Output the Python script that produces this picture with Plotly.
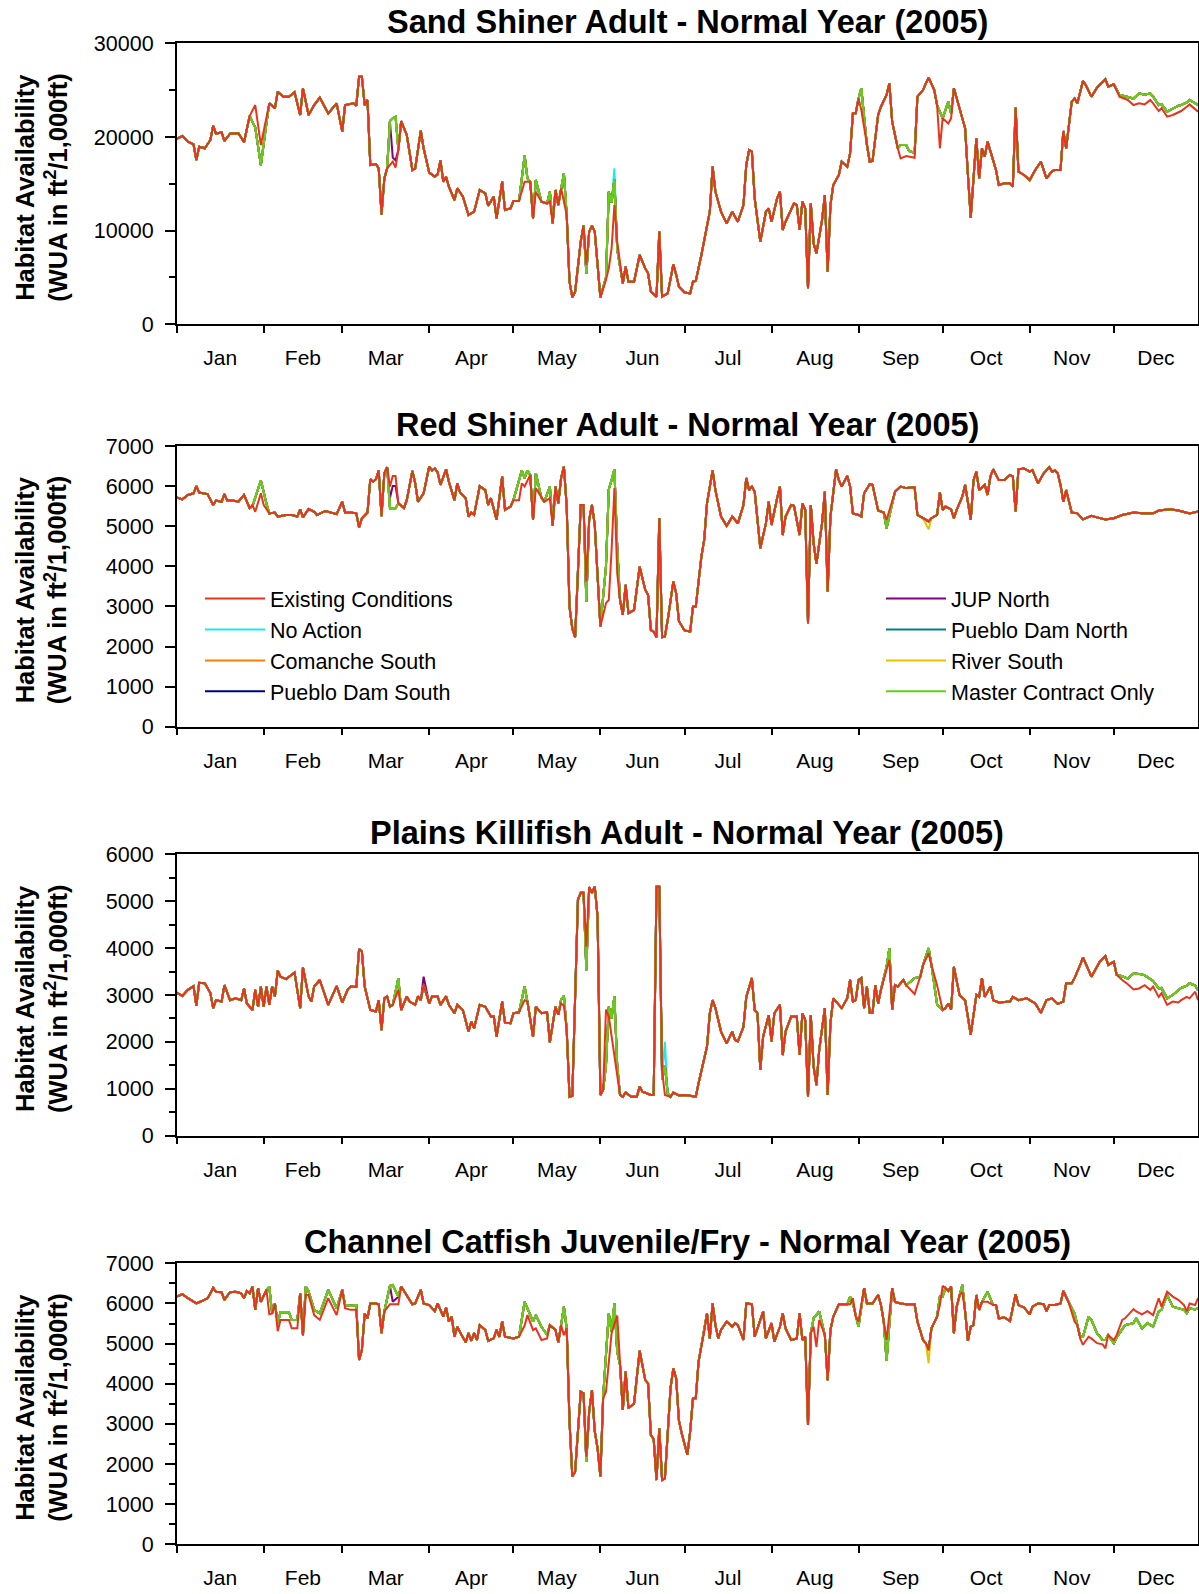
import plotly.graph_objects as go
import pandas as pd

# ---------------- series names / colours ----------------
SERIES = ["Existing Conditions", "No Action", "Comanche South", "Pueblo Dam South",
          "JUP North", "Pueblo Dam North", "River South", "Master Contract Only"]
COLORS = {"Existing Conditions": "#E8341C", "No Action": "#1CE8F2",
          "Comanche South": "#FF8000", "Pueblo Dam South": "#000080",
          "JUP North": "#800080", "Pueblo Dam North": "#008080",
          "River South": "#E6C300", "Master Contract Only": "#66CC1A"}
DRAW_ORDER = ["No Action", "Comanche South", "Pueblo Dam South", "JUP North",
              "Pueblo Dam North", "River South", "Master Contract Only", "Existing Conditions"]

TITLES = ["Sand Shiner Adult - Normal Year (2005)",
          "Red Shiner Adult - Normal Year (2005)",
          "Plains Killifish Adult - Normal Year (2005)",
          "Channel Catfish Juvenile/Fry - Normal Year (2005)"]

# ---------------- Panel 1: Sand Shiner (day of year, Existing Conditions) ----------------
sand_days = [0, 2, 4, 6, 7, 8, 10, 12, 13, 14,
             16, 17, 19, 22, 24, 26, 28, 30, 33, 35,
             36, 38, 40, 42, 44, 45, 47, 49, 51, 54,
             57, 59, 60, 63, 64, 65, 66, 67, 68, 69,
             71, 72, 73, 74, 75, 77, 78, 79, 80, 82,
             84, 85, 87, 88, 90, 92, 93, 94, 95, 96,
             97, 99, 100, 102, 104, 106, 108, 110, 111, 113,
             114, 116, 117, 119, 120, 122, 124, 126, 127, 128,
             130, 132, 133, 134, 135, 136, 137, 139, 140, 141,
             142, 144, 145, 146, 147, 148, 149, 150, 151, 153,
             154, 155, 156, 157, 159, 160, 161, 163, 165, 167,
             168, 169, 171, 172, 173, 175, 176, 177, 178, 179,
             181, 183, 184, 185, 187, 188, 190, 191, 192, 194,
             196, 198, 200, 202, 203, 204, 205, 206, 208, 210,
             211, 212, 214, 215, 216, 217, 220, 221, 222, 223,
             224, 225, 226, 227, 228, 230, 231, 232, 233, 234,
             236, 237, 239, 240, 241, 242, 243, 244, 246, 247,
             248, 250, 251, 253, 254, 255, 257, 258, 260, 261,
             263, 264, 266, 267, 268, 270, 271, 272, 273, 275,
             276, 277, 278, 281, 282, 283, 285, 286, 287, 288,
             289, 291, 292, 293, 295, 297, 298, 299, 300, 302,
             304, 306, 308, 310, 312, 313, 315, 316, 317, 319,
             320, 321, 323, 324, 326, 328, 331, 332, 334, 336,
             339, 341, 343, 345, 347, 348, 350, 351, 353, 355,
             357, 358, 360, 361, 364]
sand_ec = [19800, 20100, 19500, 19200, 17540, 18960, 18790, 19680, 21200, 20350,
           20500, 19570, 20350, 20390, 19430, 22240, 23410, 19140, 23590, 23060,
           24840, 24300, 24300, 24770, 22350, 25190, 22350, 23410, 24200, 22520,
           23590, 20570, 23410, 23590, 23340, 26440, 26440, 23410, 23950, 17000,
           17110, 16650, 11740, 15580, 16650, 17360, 16720, 18610, 21700, 20210,
           16470, 16650, 20670, 18790, 16190, 15760, 16010, 17500, 15230, 15760,
           14690, 13270, 14520, 13630, 11670, 12020, 14340, 13980, 12660, 13630,
           11310, 15230, 12200, 12380, 13160, 13160, 15230, 15230, 11310, 14160,
           13090, 12910, 13090, 10780, 14340, 12740, 14520, 11670, 4550, 2880,
           3480, 8820, 10530, 6330, 9890, 10530, 9890, 6330, 2880, 4730,
           5970, 8110, 12740, 8820, 4370, 6150, 4550, 4550, 7400, 5970,
           5440, 3480, 2950, 9890, 2950, 3300, 4900, 6400, 5330, 4000,
           3400, 3300, 4550, 4620, 7400, 8820, 12020, 16830, 14160, 12020,
           10780, 12020, 10950, 12740, 17010, 18610, 18430, 13450, 8820, 12020,
           12380, 10950, 13450, 14160, 10070, 10950, 12910, 12740, 10070, 13090,
           12380, 3840, 12910, 8640, 7570, 11130, 13800, 5620, 12740, 14870,
           15940, 17360, 16830, 18250, 22520, 22520, 24120, 22880, 19140, 17360,
           17430, 22350, 23230, 24480, 25730, 21630, 18790, 17720, 17970, 17900,
           17790, 24300, 25010, 25730, 26330, 25010, 23410, 18790, 21990, 21450,
           21990, 25190, 24120, 20920, 15940, 11380, 19850, 15580, 18790, 17900,
           19500, 17360, 16470, 14870, 15050, 15050, 14690, 23130, 16290, 15940,
           15400, 16470, 17360, 15580, 16360, 16470, 16470, 20640, 18790, 23770,
           24120, 23590, 25970, 25550, 24300, 25260, 26150, 25370, 25620, 24300,
           23950, 23410, 23590, 23480, 23950, 23590, 22770, 23060, 22170, 22350,
           22630, 22770, 23230, 23480, 22700]
# alternatives (all seven overlap closely): periods where they leave the red line
sand_alt = [(27, 32, {28: 21000, 30: 17000, 32: 21500}),
            (76, 80, {76: 21700, 77: 22000, 78: 22170, 79: 18610, 80: 21700}),
            (123, 125, {124: 18000, 125: 15580}),
            (128, 128, {128: 15400}),
            (133, 133, {133: 14160}),
            (138, 138, {138: 16120}),
            (146, 146, {146: 5440}),
            (153, 157, {153: 5000, 154: 14160, 155: 13000, 156: 15500, 157: 8000}),
            (244, 244, {244: 25190}),
            (256, 263, {257: 18790, 258: 19140, 260: 19140, 261: 18500, 263: 18300}),
            (272, 276, {272: 22700, 273: 21990, 275: 23770, 276: 22500}),
            (336, 364, {336: 24500, 339: 24300, 341: 24100, 343: 24660, 345: 24500,
                        347: 24660, 348: 24300, 350: 23410, 351: 23500, 353: 22700,
                        355: 23000, 357: 23340, 358: 23400, 360: 23700, 361: 23950,
                        364: 23410})]
sand_extra = {"JUP North": [(76, 79, {76: 21700, 77: 17800, 78: 17500, 79: 18610})],
              "No Action": [(156, 156, {156: 16650})]}

# ---------------- Panel 2: Red Shiner ----------------
red_days = [0, 2, 4, 6, 7, 8, 11, 13, 14, 16,
            17, 18, 20, 22, 24, 26, 27, 28, 30, 31,
            33, 35, 36, 39, 41, 43, 44, 45, 47, 49,
            50, 53, 55, 57, 59, 60, 62, 64, 65, 66,
            68, 69, 70, 71, 72, 73, 74, 75, 76, 77,
            78, 79, 81, 82, 84, 85, 86, 88, 90, 91,
            92, 93, 94, 95, 96, 97, 99, 100, 101, 103,
            104, 105, 106, 108, 110, 111, 112, 114, 116, 117,
            119, 120, 122, 123, 124, 126, 127, 128, 130, 131,
            133, 134, 135, 136, 137, 138, 139, 140, 141, 142,
            143, 144, 145, 146, 147, 148, 149, 150, 151, 153,
            154, 155, 156, 157, 158, 159, 160, 161, 163, 165,
            167, 168, 169, 170, 171, 172, 173, 174, 175, 177,
            178, 179, 181, 183, 184, 185, 186, 187, 188, 189,
            191, 192, 194, 196, 197, 198, 200, 202, 203, 204,
            205, 206, 208, 210, 211, 212, 214, 215, 216, 217,
            219, 220, 222, 223, 224, 225, 226, 227, 228, 230,
            231, 232, 233, 235, 236, 237, 239, 240, 241, 243,
            244, 245, 247, 248, 250, 252, 253, 256, 258, 260,
            263, 264, 266, 268, 269, 271, 272, 273, 274, 276,
            277, 278, 280, 281, 283, 284, 285, 286, 288, 289,
            290, 291, 293, 295, 297, 298, 299, 300, 302, 304,
            305, 307, 309, 311, 312, 313, 314, 315, 316, 317,
            319, 321, 323, 326, 328, 331, 334, 337, 341, 344,
            348, 350, 354, 357, 361, 364]
red_ec = [5720, 5670, 5780, 5820, 6000, 5840, 5800, 5530, 5640, 5610,
          5800, 5640, 5640, 5610, 5780, 5450, 5530, 5360, 5820, 5530,
          5320, 5340, 5240, 5280, 5280, 5240, 5420, 5220, 5430, 5360,
          5280, 5380, 5340, 5300, 5610, 5340, 5340, 5320, 4970, 5200,
          5340, 6170, 6110, 6170, 6390, 5250, 6320, 6470, 5990, 6250,
          6250, 5570, 5450, 5650, 6380, 6070, 5610, 5820, 6490, 6390,
          6440, 6340, 6030, 6220, 6420, 6110, 5650, 6070, 5840, 5700,
          5240, 5340, 5280, 6000, 5900, 5530, 5700, 5160, 6240, 5410,
          5490, 5650, 5650, 6070, 5990, 6280, 5160, 5950, 5700, 5610,
          5700, 5010, 5990, 5570, 6200, 6490, 5490, 2990, 2450, 2230,
          3820, 5530, 5530, 3620, 5160, 5530, 5030, 3820, 2500, 3080,
          3160, 4410, 5950, 3820, 3160, 2790, 3540, 2830, 2910, 3990,
          3410, 3290, 2410, 2370, 2230, 5200, 2230, 2250, 2660, 3620,
          3330, 2630, 2400, 2370, 2990, 2990, 3660, 4240, 4660, 5570,
          6390, 5900, 5240, 5010, 5120, 5240, 5070, 5530, 6200, 5900,
          5990, 5860, 4450, 5070, 5610, 5030, 5700, 5990, 4780, 5240,
          5530, 5510, 4780, 5570, 5410, 2580, 5530, 4580, 4060, 5070,
          5860, 3370, 5240, 6420, 6150, 5990, 6250, 5990, 5320, 5280,
          5240, 5820, 6050, 6030, 5390, 5340, 5160, 5860, 5990, 5950,
          5970, 5280, 5200, 5120, 5200, 5280, 5840, 5410, 5490, 5420,
          5200, 5410, 5740, 6030, 5160, 6150, 6360, 5900, 6030, 5780,
          6240, 6420, 6150, 6150, 6280, 6240, 5370, 6420, 6440, 6360,
          6400, 6070, 6320, 6470, 6360, 6390, 6320, 6030, 5610, 5900,
          5340, 5320, 5170, 5260, 5220, 5170, 5200, 5280, 5340, 5320,
          5320, 5390, 5420, 5390, 5320, 5370]
red_alt = [(27, 32, {27: 5500, 28: 5700, 30: 6140, 32: 5560}),
           (76, 80, {76: 5450, 77: 5450, 78: 5450, 79: 5570}),
           (122, 126, {123: 6390, 124: 6200, 125: 6390, 126: 6280}),
           (128, 128, {128: 6320}),
           (133, 133, {133: 5990}),
           (146, 146, {146: 3120}),
           (152, 157, {153: 4000, 154: 5920, 155: 6150, 156: 6420, 157: 4500}),
           (253, 253, {253: 4950})]
red_extra = {"JUP North": [(76, 78, {76: 5700, 77: 6000, 78: 6000})],
             "River South": [(268, 268, {268: 4920})]}

# ---------------- Panel 3: Plains Killifish ----------------
kill_days = [0, 2, 4, 6, 7, 8, 10, 12, 13, 14,
             16, 17, 19, 21, 23, 24, 25, 27, 28, 29,
             30, 31, 32, 33, 34, 35, 36, 37, 39, 41,
             42, 44, 45, 47, 48, 49, 51, 54, 57, 59,
             61, 62, 64, 65, 66, 67, 69, 71, 72, 73,
             74, 75, 76, 77, 79, 80, 82, 83, 85, 86,
             87, 88, 90, 91, 93, 94, 96, 97, 99, 100,
             102, 104, 105, 106, 108, 110, 112, 113, 114, 116,
             117, 119, 120, 122, 124, 125, 127, 128, 130, 132,
             133, 135, 136, 137, 138, 139, 140, 141, 142, 143,
             144, 145, 146, 147, 148, 149, 150, 151, 152, 153,
             154, 156, 158, 159, 160, 162, 164, 165, 166, 169,
             170, 171, 172, 173, 174, 176, 177, 179, 181, 183,
             185, 186, 187, 189, 190, 191, 192, 194, 196, 197,
             198, 199, 200, 202, 203, 205, 206, 207, 208, 209,
             211, 212, 213, 215, 216, 217, 219, 221, 222, 223,
             224, 225, 226, 227, 228, 229, 231, 232, 233, 234,
             236, 237, 239, 240, 241, 242, 243, 244, 245, 246,
             247, 248, 249, 250, 251, 253, 254, 255, 256, 257,
             259, 260, 263, 265, 266, 268, 269, 271, 273, 274,
             275, 276, 277, 279, 281, 282, 283, 285, 286, 287,
             288, 290, 291, 293, 297, 298, 300, 303, 306, 308,
             310, 312, 314, 316, 317, 319, 320, 322, 323, 325,
             326, 328, 329, 331, 332, 334, 335, 337, 339, 341,
             343, 345, 347, 348, 350, 351, 353, 355, 357, 358,
             360, 361, 363, 364]
kill_ec = [3050, 2980, 3110, 3190, 2770, 3260, 3250, 3040, 2720, 2890,
           2860, 3210, 2890, 2930, 2890, 3140, 2820, 2680, 3110, 2750,
           3180, 2750, 3180, 2790, 3180, 2970, 3520, 3390, 3340, 3430,
           3480, 2720, 3590, 2970, 2860, 3180, 3320, 2790, 3190, 2840,
           3120, 3180, 3170, 3980, 3930, 3180, 2680, 2650, 2890, 2250,
           2930, 2970, 2750, 2790, 3110, 2680, 2970, 2860, 2790, 2970,
           2890, 3210, 2820, 2970, 2970, 2790, 2970, 2790, 2610, 2790,
           2680, 2220, 2430, 2290, 2790, 2750, 2540, 2550, 2110, 2860,
           2410, 2400, 2610, 2630, 2890, 2860, 2110, 2750, 2610, 2630,
           1990, 2750, 2580, 2820, 2770, 2250, 830, 850, 3250, 5030,
           5180, 5180, 4030, 5300, 5180, 5310, 4670, 870, 980, 2690,
           2540, 1690, 870, 830, 920, 830, 830, 1050, 940, 870,
           870, 5310, 5310, 1400, 870, 830, 920, 860, 870, 850,
           830, 1120, 1370, 1900, 2610, 2890, 2720, 2220, 1970, 2080,
           2220, 2040, 2010, 2320, 2960, 3360, 2680, 2610, 1400, 2110,
           2570, 2010, 2610, 2790, 1720, 2220, 2540, 2540, 1720, 2610,
           2470, 830, 2570, 1470, 1080, 1830, 2720, 870, 2400, 2930,
           2790, 2720, 2930, 3320, 2860, 2890, 3320, 3360, 2720, 3180,
           2620, 2620, 3210, 2820, 3110, 3570, 3750, 2690, 3210, 3180,
           3320, 3210, 3020, 3390, 3640, 3890, 3640, 3210, 2680, 2720,
           2820, 2690, 3600, 3000, 2890, 2540, 2150, 3000, 2960, 3360,
           2960, 3180, 2890, 2840, 2860, 2960, 2890, 2930, 2820, 2620,
           2890, 2930, 2810, 2860, 3250, 3250, 3360, 3640, 3800, 3530,
           3390, 3600, 3710, 3830, 3640, 3710, 3430, 3320, 3230, 3120,
           3140, 3210, 3110, 3180, 2960, 3040, 2790, 2860, 2840, 2890,
           2960, 2930, 3070, 2890]
kill_alt = [(79, 79, {79: 3360}),
            (124, 124, {124: 3180}),
            (137, 138, {137: 2900, 138: 2980}),
            (146, 146, {146: 3530}),
            (152, 158, {152: 980, 153: 1500, 154: 2750, 155: 2500, 156: 2970, 157: 1500, 158: 870}),
            (173, 175, {173: 1200, 174: 1500, 175: 900}),
            (253, 254, {253: 3600, 254: 4000}),
            (263, 263, {263: 3360}),
            (268, 268, {268: 4000}),
            (271, 271, {271: 2800}),
            (337, 364, {337: 3400, 339: 3350, 341: 3460, 343: 3450, 345: 3420,
                        347: 3350, 348: 3300, 350: 3140, 351: 3150, 353: 2930,
                        355: 3000, 357: 3100, 358: 3150, 360: 3200, 361: 3250,
                        363: 3200, 364: 3100})]
kill_extra = {"No Action": [(173, 175, {173: 1200, 174: 2000, 175: 900})],
              "JUP North": [(88, 88, {88: 3390})]}

# ---------------- Panel 4: Channel Catfish ----------------
cat_days = [0, 2, 4, 5, 7, 9, 11, 12, 13, 14,
            16, 17, 19, 21, 23, 24, 25, 26, 27, 28,
            29, 30, 32, 33, 34, 35, 36, 37, 40, 41,
            43, 44, 45, 46, 47, 49, 51, 54, 57, 59,
            60, 62, 64, 65, 66, 67, 68, 69, 71, 72,
            73, 74, 76, 77, 79, 80, 82, 84, 85, 87,
            88, 90, 92, 93, 95, 96, 97, 98, 99, 100,
            101, 103, 104, 105, 106, 107, 108, 110, 111, 113,
            114, 115, 116, 117, 120, 122, 124, 125, 127, 128,
            130, 132, 133, 135, 136, 137, 138, 139, 140, 141,
            142, 144, 145, 146, 147, 148, 149, 150, 151, 152,
            153, 155, 157, 158, 159, 160, 161, 163, 165, 167,
            168, 169, 170, 171, 172, 173, 174, 176, 177, 178,
            179, 180, 182, 183, 184, 185, 186, 188, 189, 190,
            191, 192, 193, 194, 196, 198, 199, 200, 202, 203,
            205, 206, 208, 209, 210, 212, 213, 215, 216, 217,
            219, 221, 222, 223, 224, 225, 226, 227, 228, 229,
            231, 232, 233, 234, 236, 239, 240, 241, 242, 243,
            245, 246, 248, 250, 251, 252, 253, 255, 256, 258,
            260, 263, 264, 266, 267, 268, 269, 271, 272, 273,
            274, 275, 276, 277, 278, 279, 280, 281, 282, 283,
            284, 285, 286, 287, 289, 291, 292, 293, 295, 297,
            299, 300, 302, 304, 305, 307, 309, 310, 311, 313,
            315, 316, 318, 319, 320, 321, 322, 323, 325, 326,
            328, 330, 331, 332, 334, 335, 337, 338, 341, 342,
            344, 346, 348, 350, 351, 353, 355, 357, 359, 360,
            361, 363, 364]
cat_ec = [6170, 6230, 6130, 6090, 6000, 6060, 6130, 6250, 6390, 6290,
          6280, 6090, 6280, 6290, 6250, 6130, 6310, 6250, 6420, 5840,
          6380, 6040, 6340, 5730, 5750, 6000, 5310, 5590, 5590, 5380,
          5380, 6250, 5210, 6210, 6210, 5710, 5590, 6130, 5710, 6340,
          5880, 5840, 5840, 4590, 4840, 5750, 5630, 6000, 6000, 5980,
          5260, 5800, 5980, 5980, 5980, 6420, 6210, 5980, 6000, 6340,
          6000, 5960, 5810, 6000, 5670, 5900, 5550, 5670, 5170, 5420,
          5280, 5030, 5260, 5070, 5260, 5090, 5460, 5340, 5070, 5130,
          5340, 5170, 5550, 5170, 5130, 5170, 5450, 5710, 5340, 5380,
          5090, 5130, 5460, 5340, 5030, 5460, 5210, 5380, 3060, 1690,
          1810, 3800, 3760, 2180, 3300, 3840, 2810, 2390, 1690, 3640,
          3800, 5260, 5700, 4470, 3350, 4300, 3390, 3510, 4820, 4090,
          4010, 2720, 2620, 1600, 2890, 1600, 1640, 3890, 4380, 4140,
          3080, 2760, 2230, 2810, 3640, 3640, 4550, 5300, 5750, 5130,
          6000, 5460, 5130, 5340, 5550, 5420, 5510, 5460, 5090, 6000,
          5980, 5170, 5590, 5800, 5130, 5510, 5050, 5420, 5750, 5380,
          5090, 5130, 5750, 5090, 5170, 2970, 5260, 5420, 4920, 5590,
          5210, 4090, 5340, 5670, 5980, 5980, 5980, 6130, 5670, 5550,
          6380, 6000, 6000, 6210, 5960, 5550, 5090, 6380, 6040, 6000,
          5980, 5980, 5550, 5090, 5010, 4840, 5380, 5670, 5960, 6440,
          6380, 6310, 6420, 5260, 5920, 6210, 6280, 5800, 5070, 5420,
          5460, 6210, 5840, 6040, 6040, 5960, 5960, 5630, 5650, 5560,
          6230, 5960, 5900, 5730, 5920, 6000, 5980, 5810, 5960, 5960,
          6000, 6310, 6000, 5750, 5550, 5460, 5130, 4970, 5170, 5130,
          5010, 4980, 4880, 5210, 5090, 5210, 5590, 5630, 5860, 5800,
          5730, 5810, 5710, 6130, 5920, 6290, 6170, 6090, 5960, 5800,
          6000, 5960, 6130]
cat_alt = [(33, 33, {33: 6420}),
           (36, 43, {36: 5510, 37: 5780, 40: 5780, 41: 5590, 43: 5590}),
           (46, 47, {46: 6420, 47: 6300}),
           (49, 64, {49: 5840, 51: 5750, 54: 6340, 57: 5880, 59: 6340, 60: 5960, 62: 5940, 64: 5960}),
           (76, 79, {76: 6440, 77: 6460, 79: 6170}),
           (124, 133, {124: 6040, 125: 5880, 127: 5550, 128: 5710, 130: 5420, 132: 5220, 133: 5460}),
           (138, 138, {138: 5920}),
           (146, 146, {146: 2060}),
           (152, 158, {152: 3700, 154: 5750, 155: 5300, 156: 6000, 157: 4800, 158: 4470}),
           (227, 229, {227: 5630, 229: 5800}),
           (240, 243, {240: 6170, 241: 6000, 243: 5420}),
           (253, 253, {253: 4570}),
           (272, 273, {272: 6170, 273: 6170}),
           (280, 280, {280: 6460}),
           (289, 289, {289: 6290}),
           (319, 364, {319: 5880, 320: 5750, 322: 5170, 323: 5170, 325: 5670, 326: 5590,
                       328: 5260, 330: 5090, 331: 5090, 332: 5210, 334: 5010, 335: 5150,
                       337: 5380, 338: 5460, 341: 5510, 342: 5630, 344: 5380, 346: 5510,
                       348: 5420, 350: 5800, 351: 5840, 353: 6210, 355: 5920, 357: 5880,
                       359: 5840, 360: 5760, 361: 5880, 363: 5850, 364: 5880})]
cat_extra = {"River South": [(268, 268, {268: 4510})],
             "JUP North": [(77, 77, {77: 6040})]}

# ---------------- layout constants (pixels) ----------------
W, H = 1199, 1594
PLOT_L, PLOT_R = 176.7, 1198.0
PLOT_TOP = [43.3, 446.0, 854.3, 1263.3]
PLOT_BOT = [324.3, 726.7, 1135.7, 1544.3]
Y_MAX = [30000, 7000, 6000, 7000]
Y_DTICK = [10000, 1000, 1000, 1000]
Y_MINOR = [5000, None, 500, 500]
FONT = "Liberation Sans, Arial, sans-serif"

PANELS = [(sand_days, sand_ec, sand_alt, sand_extra),
          (red_days, red_ec, red_alt, red_extra),
          (kill_days, kill_ec, kill_alt, kill_extra),
          (cat_days, cat_ec, cat_alt, cat_extra)]


def patch(days, vals, windows):
    pts = dict(zip(days, vals))
    for lo, hi, rep in windows:
        for d in [d for d in pts if lo <= d <= hi]:
            del pts[d]
        pts.update(rep)
    ks = sorted(pts)
    return ks, [pts[k] for k in ks]


BASE = pd.Timestamp("2005-01-01")


def to_dates(days):
    return [BASE + pd.Timedelta(days=int(d)) for d in days]


fig = go.Figure()
LEGEND_OF = {s: ("legend" if i < 4 else "legend2") for i, s in enumerate(SERIES)}

for p, (days, ec, alt_w, extra) in enumerate(PANELS):
    assert len(days) == len(ec)
    ax = "" if p == 0 else str(p + 1)
    alt_d, alt_v = patch(days, ec, alt_w)
    for name in DRAW_ORDER:
        if name == "Existing Conditions":
            dd, vv = days, ec
        else:
            dd, vv = patch(alt_d, alt_v, extra.get(name, []))
        fig.add_trace(go.Scatter(
            x=to_dates(dd), y=vv, mode="lines", name=name,
            line=dict(color=COLORS[name], width=2),
            xaxis="x" + ax, yaxis="y" + ax,
            showlegend=(p == 0), legend=LEGEND_OF[name],
            legendrank=SERIES.index(name) + 1,
        ))

    dom_y = [1 - PLOT_BOT[p] / H, 1 - PLOT_TOP[p] / H]
    fig.layout["xaxis" + ax] = dict(
        type="date", domain=[PLOT_L / W, PLOT_R / W], anchor="y" + ax,
        range=["2005-01-01", "2005-12-31"], automargin=False,
        tick0="2005-01-01", dtick="M1", tickformat="%b", ticklabelmode="period",
        ticks="outside", ticklen=7, tickwidth=1.5, tickcolor="black",
        ticklabelstandoff=7,
        showline=True, linecolor="black", linewidth=1.5, mirror=True,
        showgrid=False, zeroline=False,
        tickfont=dict(family=FONT, size=21, color="black"))
    yax = dict(
        domain=dom_y, anchor="x" + ax, range=[0, Y_MAX[p]], automargin=False,
        tick0=0, dtick=Y_DTICK[p], tickformat="d", ticks="outside", ticklen=10, tickwidth=1.5,
        tickcolor="black", ticklabelstandoff=7,
        showline=True, linecolor="black", linewidth=1.5, mirror=True,
        showgrid=False, zeroline=False,
        tickfont=dict(family=FONT, size=21.5, color="black"))
    if Y_MINOR[p]:
        yax["minor"] = dict(dtick=Y_MINOR[p], tick0=0, ticks="outside", ticklen=6,
                            tickwidth=1.5, tickcolor="black", showgrid=False)
    fig.layout["yaxis" + ax] = yax

    # panel title
    fig.add_annotation(text="<b>" + TITLES[p] + "</b>", xref="paper", yref="paper",
                       x=(PLOT_L + PLOT_R) / 2 / W, y=1 - (PLOT_TOP[p] - 21.5) / H,
                       xanchor="center", yanchor="middle", showarrow=False,
                       font=dict(family=FONT, size=32.5, color="black"))
    # y-axis title (two rotated lines)
    yc = 1 - ((PLOT_TOP[p] + PLOT_BOT[p]) / 2 + 4) / H
    fig.add_annotation(text="<b>Habitat Availability</b>", xref="paper", yref="paper",
                       x=25 / W, y=yc, textangle=-90, xanchor="center", yanchor="middle",
                       showarrow=False, font=dict(family=FONT, size=25.5, color="black"))
    fig.add_annotation(text="<b>(WUA in ft<sup>2</sup>/1,000ft)</b>", xref="paper", yref="paper",
                       x=56 / W, y=yc, textangle=-90, xanchor="center", yanchor="middle",
                       showarrow=False, font=dict(family=FONT, size=25.5, color="black"))

legend_common = dict(xanchor="left", yanchor="top", bgcolor="rgba(0,0,0,0)",
                     font=dict(family=FONT, size=21.5, color="black"),
                     itemwidth=60, tracegroupgap=0, borderwidth=0)
fig.update_layout(
    width=W, height=H, margin=dict(l=0, r=0, t=0, b=0, autoexpand=False),
    paper_bgcolor="white", plot_bgcolor="white",
    font=dict(family=FONT, color="black"),
    legend=dict(x=200 / W, y=1 - 578 / H, **legend_common),
    legend2=dict(x=881 / W, y=1 - 578 / H, **legend_common),
)

fig.write_html("out.html", config={"displayModeBar": False},
               post_script="document.body.style.margin='0';")
